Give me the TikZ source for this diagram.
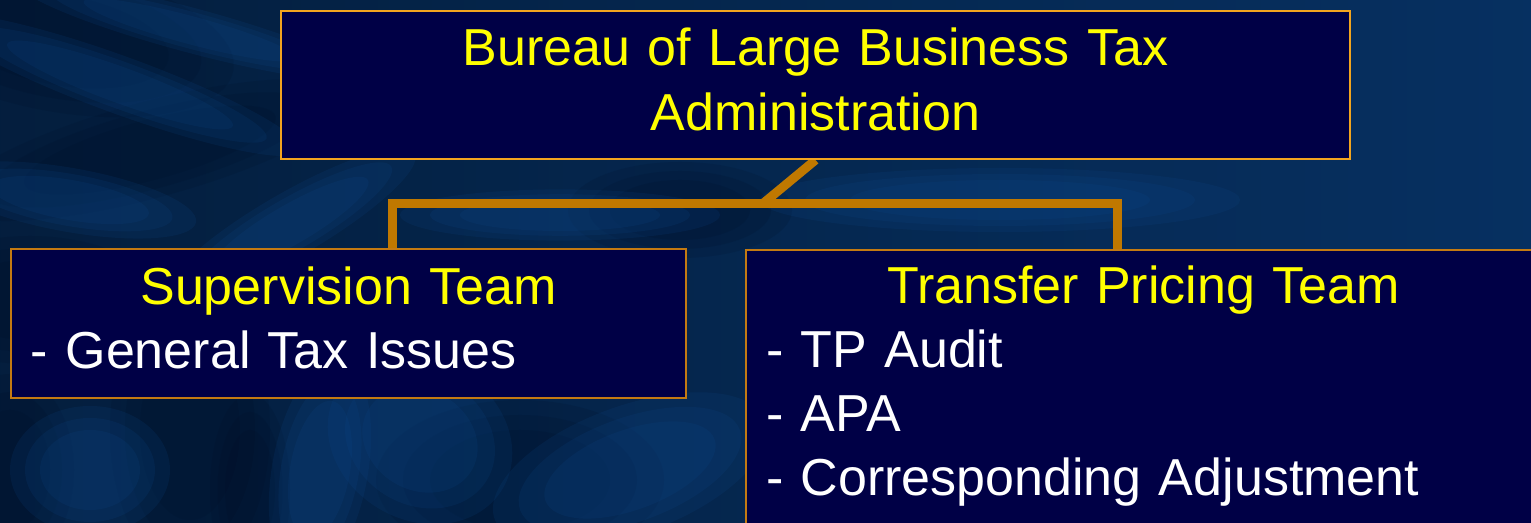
\documentclass[tikz,border=0pt]{standalone}
\usepackage{fontspec}
\setmainfont{Liberation Sans}
\usetikzlibrary{positioning,calc,backgrounds}
\definecolor{yl}{HTML}{FFFF00}
\definecolor{nv}{HTML}{000046}
\definecolor{ob}{HTML}{F2A51F}
\definecolor{od}{HTML}{C47A12}
\definecolor{wr}{HTML}{C07800}
\definecolor{bd}{HTML}{010C24}
\definecolor{bm}{HTML}{052B58}
\definecolor{bl}{HTML}{0E4C92}
\newcommand\teamhd[1]{\makebox[\linewidth]{\textcolor{yl}{#1}}}

\begin{document}
\begin{tikzpicture}[x=0.1mm,y=-0.1mm,
  t/.style={draw=ob,fill=nv,line width=0.2mm,inner sep=0pt,anchor=north west,align=center,text=yl,font=\fontsize{5.2mm}{6.5mm}\selectfont},
  s/.style={draw=od,fill=nv,line width=0.2mm,inner xsep=2mm,inner ysep=0pt,anchor=north west,align=left,text=white,font=\fontsize{5.2mm}{6.4mm}\selectfont},
  a/.style={draw=wr,line width=0.9mm,line join=miter}]
\useasboundingbox (0,0) rectangle (1531,523);
\node[t,text width=106.9mm,text height=5.5mm,text depth=9.3mm](n1) at (280,10){Bureau of Large Business Tax\\Administration};
\node[s,text width=63.5mm,text height=5.6mm,text depth=9.3mm](n2) at (10,248){\teamhd{Supervision Team}\\- General Tax Issues};
\node[s,text width=75.5mm,text height=5.4mm,text depth=22.7mm](n3) at (745,249){\teamhd{Transfer Pricing Team}\\- TP Audit\\- APA\\- Corresponding Adjustment};
\coordinate (j) at (763,203.5);
% backdrop, then the wires under the boxes
\begin{scope}[on background layer]
\clip (0,0) rectangle (1531,523);
\shade[left color=bm!70!black,right color=bm!85!bl] (0,0) rectangle (1531,523);
\foreach \x/\y/\rx/\ry/\r/\c in {60/40/110/45/-10/bd,150/150/130/30/15/bd,30/300/80/40/0/bd,
  190/430/50/90/0/bd,250/490/25/60/0/bd,520/480/90/50/0/bd,10/470/40/60/0/bd,680/210/70/30/0/bd,
  120/85/120/18/-20/bl,190/30/110/14/-15/bl,70/200/80/20/-10/bl,290/225/90/20/30/bl,
  320/470/30/70/-10/bl,420/440/60/50/-30/bl,630/470/90/40/20/bl,560/215/100/16/0/bl,
  90/470/50/40/0/bl,1000/200/150/20/0/bl}
  \foreach \k in {1.6,1.3,1}
    \fill[\c,opacity=.14,rotate around={\r:(\x,\y)}] (\x,\y) ellipse ({\rx*\k} and {\ry*\k});
\draw[a](n1.south)--(j);
\draw[a]($(n2.north west)+(382,0)$)|-(j)-|($(n3.north west)+(372.5,0)$);
\end{scope}
\end{tikzpicture}
\end{document}
